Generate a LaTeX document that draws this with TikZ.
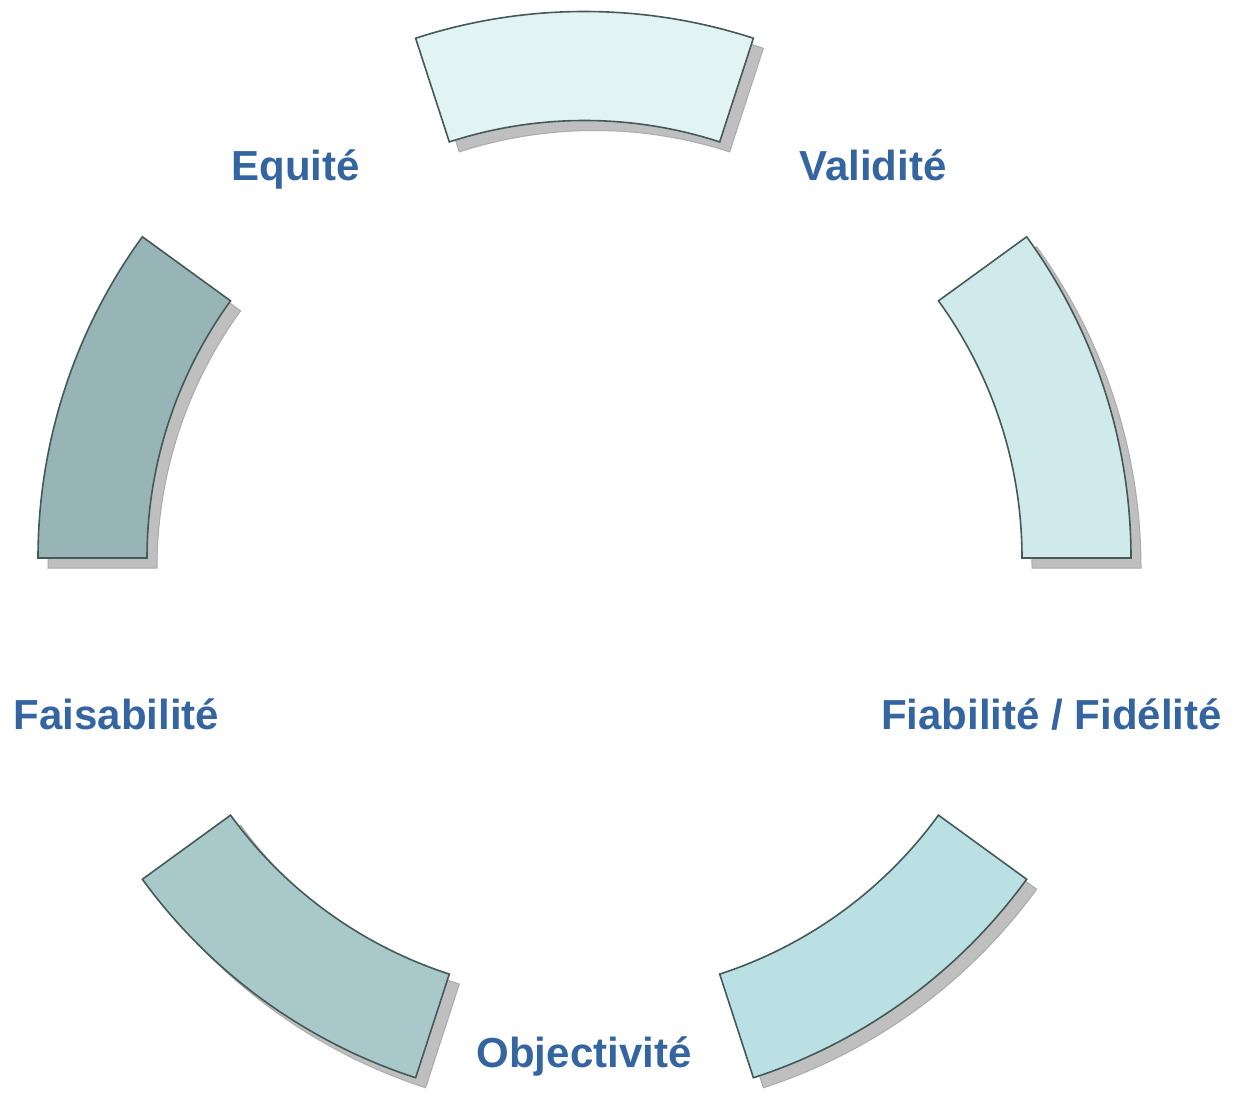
\documentclass[tikz,border=0pt]{standalone}
\usepackage{fontspec}
\setmainfont{Liberation Sans}
\usetikzlibrary{calc}
\begin{document}
\begin{tikzpicture}[x=1pt,y=1pt,
  seg/.style={draw=segline,line width=1.6pt,line join=miter},
  shade/.style={fill=shadowgray,draw=shadowedge,line width=1pt},
  lbl/.style={text=lblblue,font=\fontsize{42}{50}\selectfont\bfseries,anchor=base,inner sep=0pt}]
\definecolor{segline}{HTML}{465959}
\definecolor{shadowgray}{HTML}{BFBFBF}
\definecolor{shadowedge}{HTML}{ABABAB}
\definecolor{lblblue}{HTML}{3465A0}
\definecolor{cA}{HTML}{E2F3F3}
\definecolor{cB}{HTML}{D0EAEB}
\definecolor{cC}{HTML}{BAE0E3}
\definecolor{cD}{HTML}{A8C8CA}
\definecolor{cE}{HTML}{97B4B6}
\useasboundingbox (0,0) rectangle (1239,-1095);
\coordinate (O) at (584.5,-558);
\coordinate (Os) at (594.5,-568);
\def\Rout{546.5}
\def\Rin{437.5}
% ring segments: shadow first, then the filled segment
\foreach \a/\c/\n in {72/cA/top,0/cB/right,-72/cC/botright,-144/cD/botleft,144/cE/left}{
  \pgfmathsetmacro{\b}{\a+36}
  \path[shade] ($(Os)+(\a:\Rout)$) arc[start angle=\a,end angle=\b,radius=\Rout]
     -- ($(Os)+(\b:\Rin)$) arc[start angle=\b,end angle=\a,radius=\Rin] -- cycle;
  \path[seg,fill=\c] ($(O)+(\a:\Rout)$) arc[start angle=\a,end angle=\b,radius=\Rout]
     -- ($(O)+(\b:\Rin)$) arc[start angle=\b,end angle=\a,radius=\Rin] -- cycle;
}
\node[lbl] (validite) at (873,-180) {Validité};
\node[lbl] (equite) at (295.5,-180) {Equité};
\node[lbl] (fiabilite) at (1051.5,-729) {Fiabilité / Fidélité};
\node[lbl] (faisabilite) at (116.5,-729) {Faisabilité};
\node[lbl] (objectivite) at (584,-1067) {Objectivité};
\end{tikzpicture}
\end{document}
